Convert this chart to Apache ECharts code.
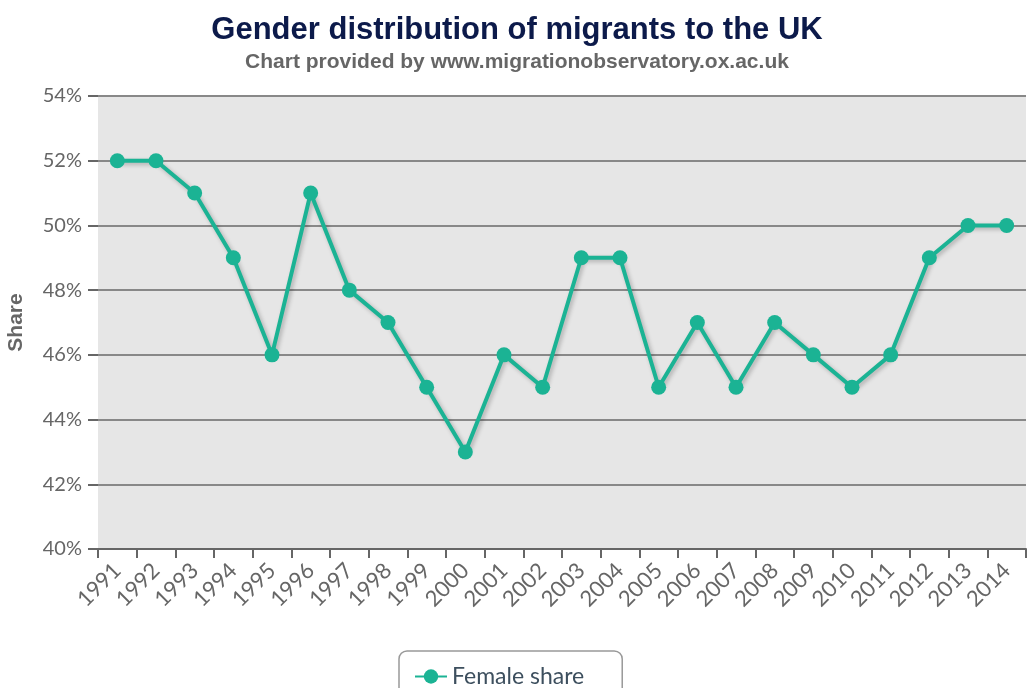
<!DOCTYPE html>
<html><head><meta charset="utf-8">
<script src="https://cdn.jsdelivr.net/npm/echarts@6/dist/echarts.min.js"></script>
<style>html,body{margin:0;padding:0;background:#fff}#c{width:1034px;height:688px}</style>
</head><body><div id="c"></div>
<script>
const years = ['1991','1992','1993','1994','1995','1996','1997','1998','1999','2000','2001','2002','2003','2004','2005','2006','2007','2008','2009','2010','2011','2012','2013','2014'];
const femaleShare = [52,52,51,49,46,51,48,47,45,43,46,45,49,49,45,47,45,47,46,45,46,49,50,50];
const yTicks = [40,42,44,46,48,50,52,54];

const chart = echarts.init(document.getElementById('c'), null, {renderer:'canvas'});
chart.setOption({
  animation:false,
  backgroundColor:'#fff',
  title:{
    text:'Gender distribution of migrants to the UK',
    subtext:'Chart provided by www.migrationobservatory.ox.ac.uk',
    left:'center', top:10, itemGap:6,
    textStyle:{fontFamily:'Liberation Sans, Arial',fontWeight:'bold',fontSize:31,color:'#0c1a4a'},
    subtextStyle:{fontFamily:'Liberation Sans, Arial',fontWeight:'bold',fontSize:21,color:'#666'}
  },
  legend:{
    top:651, left:399,
    data:['Female share'],
    borderColor:'#999', borderWidth:1.5, borderRadius:8,
    padding:[14,38,16,15],
    itemWidth:32, itemHeight:18, itemGap:10,
    textStyle:{fontFamily:'Lato, Arial',fontSize:23,color:'#3d4f5e'}
  },
  grid:{left:98,right:8,top:96,bottom:139,show:true,backgroundColor:'#e6e6e6',borderWidth:0,containLabel:false,outerBoundsMode:'none'},
  xAxis:{
    type:'category', data:years, boundaryGap:true,
    axisLine:{lineStyle:{color:'#666',width:2}},
    axisTick:{show:true,length:9,lineStyle:{color:'#666',width:2},alignWithLabel:false},
    axisLabel:{rotate:45,interval:0,fontFamily:'Lato, Arial',fontSize:22,color:'#666',margin:18},
    splitLine:{show:false}
  },
  yAxis:{
    type:'value', min:40, max:54, interval:2,
    name:'Share', nameLocation:'middle', nameGap:71, nameRotate:90,
    nameTextStyle:{fontFamily:'Liberation Sans, Arial',fontWeight:'bold',fontSize:21,color:'#666'},
    axisLine:{show:false},
    axisTick:{show:true,length:10,lineStyle:{color:'#666',width:2}},
    axisLabel:{formatter:v=>v+'%',fontFamily:'Lato, Arial',fontSize:20,color:'#666',margin:16},
    splitLine:{lineStyle:{color:'#888',width:2}}
  },
  series:[{
    name:'Female share', type:'line', data:femaleShare,
    symbol:'circle', symbolSize:15,
    itemStyle:{color:'#1bb394'},
    lineStyle:{color:'#1bb394',width:4,shadowColor:'rgba(0,0,0,0.25)',shadowBlur:4,shadowOffsetX:2,shadowOffsetY:2}
  }]
});
</script></body></html>
